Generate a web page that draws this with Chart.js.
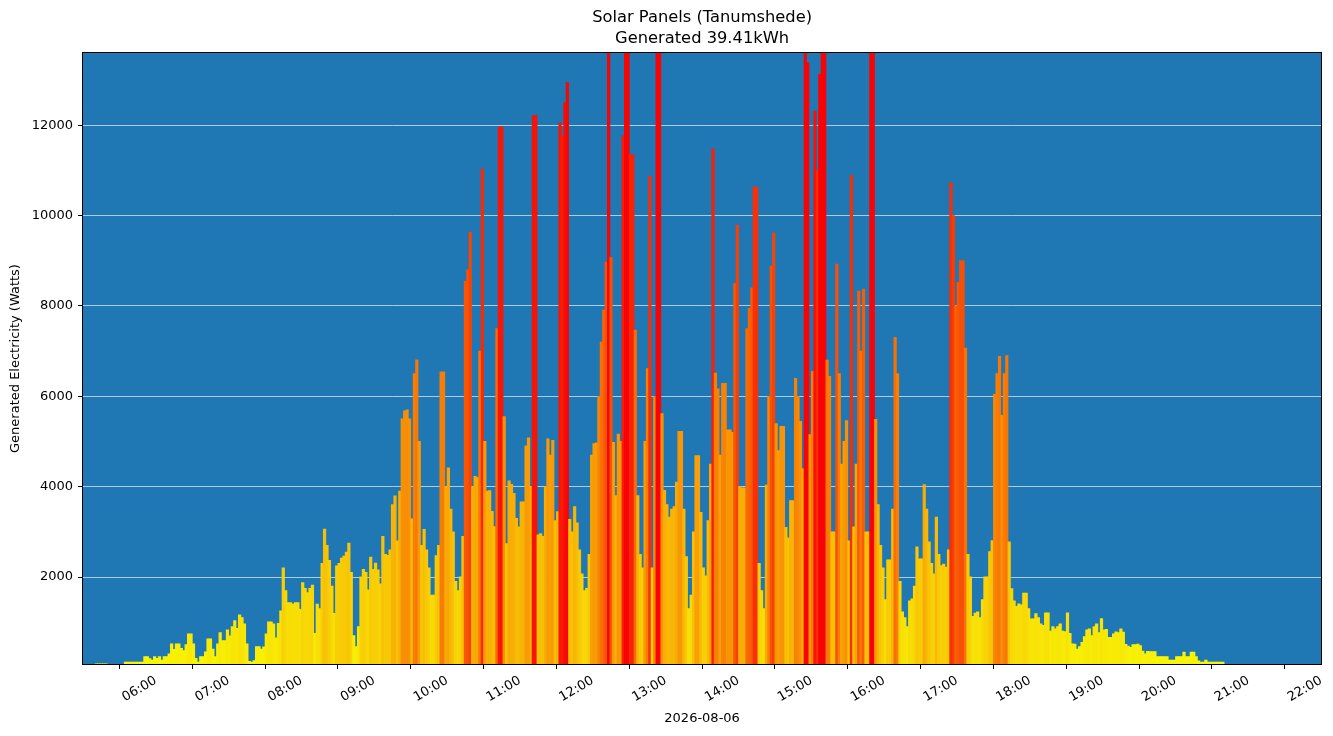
<!DOCTYPE html>
<html>
<head>
<meta charset="utf-8">
<script src="https://cdn.jsdelivr.net/npm/chart.js@4/dist/chart.umd.min.js"></script>
<style>
  html, body { margin: 0; padding: 0; background: #ffffff; }
  #wrap { width: 1333px; height: 736px; }
</style>
</head>
<body>
<div id="wrap"><canvas id="c" width="1333" height="736"></canvas></div>
<script>
// ---- data (2-minute bins) ----
const chartTitle = ['Solar Panels (Tanumshede)', 'Generated 39.41kWh'];
const xAxisTitle = '2026-08-06';
const yAxisTitle = 'Generated Electricity (Watts)';
const startMinute = 310;   // 05:10
const binMinutes = 2;
const watts = [
  75,75,75,75,75,0,0,0,0,0,
  0,0,117,117,117,117,117,117,117,117,
  236,236,190,162,236,200,236,162,236,236,
  295,517,399,517,517,420,369,500,738,738,
  517,200,117,236,236,340,628,628,400,236,
  517,768,591,591,827,694,900,1034,864,1159,
  1100,960,517,130,117,150,458,458,400,450,
  738,1004,1004,960,650,975,1248,2200,1700,1433,
  1433,1400,1433,1433,1285,1876,1750,1654,1750,1817,
  750,1400,1300,2300,3057,2700,2370,1800,1196,2245,
  2300,2420,2460,2550,2747,2100,700,458,900,2000,
  2171,2100,1713,2437,2171,2304,2156,1850,2900,2500,
  2480,2600,3600,3794,2800,3900,5500,5676,5700,5500,
  3284,6500,6807,5000,2700,3056,2600,2200,1600,1600,
  2470,2700,6540,6540,4000,4414,3500,3000,1900,1700,
  2000,2900,8545,8800,9636,4000,4225,4200,7000,11030,
  5000,3900,3913,3450,3117,7500,11965,11965,5550,2738,
  4126,4050,3850,3300,3108,3661,3661,4900,5079,4000,
  12216,12216,2930,2961,2900,4000,5056,4700,5022,3250,
  3446,12052,11766,12500,12944,3273,3000,3558,3200,2600,
  2069,1700,1750,2500,4700,4950,4970,6000,7200,7905,
  8970,14000,9073,4978,3800,5160,5000,11766,14000,14000,
  11342,11342,7463,3800,2500,2200,5000,6615,10874,2200,
  6000,14000,14000,5619,3920,3600,3325,3500,3558,4100,
  5221,5221,3500,2450,1300,1600,3000,4684,4684,3428,
  2200,2026,3250,4500,11480,6511,6165,4700,6286,6286,
  5255,5255,5200,8500,9792,4000,3974,3974,7500,7948,
  8400,10632,10632,2300,1700,1300,4035,6000,8883,9619,
  5394,4800,5333,5333,3100,2866,3688,3688,6398,6000,
  5446,4398,14000,13385,5152,6554,12311,11000,13125,14000,
  14000,6800,6442,3000,3000,8926,6500,4500,5000,5463,
  2800,10892,3108,4500,8329,7000,8372,3000,3000,14000,
  14000,5489,3600,2700,2200,1500,2381,2381,3500,7307,
  6500,1900,1229,1100,900,1472,1515,1800,2667,2400,
  2400,4043,3500,2779,2300,2069,3325,2500,2250,2286,
  2216,2600,10736,10000,8000,8520,9004,9004,7065,2500,
  2000,1126,1200,1230,1100,1500,2000,2000,2563,2805,
  6043,6500,6883,5576,6500,6900,2779,1740,1472,1350,
  1403,1380,1645,1645,1300,1074,1074,1186,1100,961,
  930,1203,1203,800,900,850,900,961,800,788,
  1203,750,520,516,400,458,550,680,830,850,
  700,900,960,768,1078,830,840,665,665,740,
  785,770,850,780,508,471,440,500,500,516,
  480,360,300,353,346,346,346,235,235,235,
  235,235,161,161,161,235,235,235,338,235,
  235,338,338,235,140,117,117,161,117,117,
  117,117,117,117,117
];
const xTickLabels = ['06:00','07:00','08:00','09:00','10:00','11:00','12:00','13:00',
                     '14:00','15:00','16:00','17:00','18:00','19:00','20:00','21:00','22:00'];
const yTickValues = [2000, 4000, 6000, 8000, 10000, 12000];

// ---- helpers ----
function labelToMinutes(s) { const p = s.split(':'); return (+p[0]) * 60 + (+p[1]); }
function minutesToLabel(m) {
  const h = Math.floor(m / 60), mm = Math.round(m - h * 60);
  return String(h).padStart(2, '0') + ':' + String(mm).padStart(2, '0');
}
const xTickMinutes = xTickLabels.map(labelToMinutes);
const points = watts.map((w, i) => ({ x: startMinute + binMinutes * i + binMinutes / 2, y: w }));

function colourFor(v) {
  // yellow -> orange -> red (autumn-like), slightly blended with the blue axes
  const t = Math.max(0, Math.min(1, v / 13000));
  const r = 248;
  const g = Math.round(248 * (1 - t) + 4 * t);
  const b = 6;
  return 'rgb(' + r + ',' + g + ',' + b + ')';
}

const FONT = '"DejaVu Sans", "Liberation Sans", sans-serif';
Chart.defaults.color = '#000000';
Chart.defaults.font.family = FONT;

const framePlugin = {
  id: 'frame',
  beforeDraw(chart) {
    const { ctx, chartArea: a } = chart;
    ctx.save();
    ctx.fillStyle = '#ffffff';
    ctx.fillRect(0, 0, chart.width, chart.height);
    ctx.fillStyle = '#1f77b4';
    ctx.fillRect(a.left, a.top, a.right - a.left, a.bottom - a.top);
    ctx.restore();
  },
  afterDraw(chart) {
    const { ctx, chartArea: a } = chart;
    ctx.save();
    ctx.strokeStyle = '#000000';
    ctx.lineWidth = 1;
    ctx.strokeRect(Math.round(a.left) - 0.5, Math.round(a.top) - 0.5,
                   Math.round(a.right - a.left) + 1, Math.round(a.bottom - a.top) + 1);
    ctx.restore();
  }
};

new Chart(document.getElementById('c'), {
  type: 'bar',
  data: {
    datasets: [{
      data: points,
      backgroundColor: points.map(p => colourFor(p.y)),
      borderWidth: 0,
      barPercentage: 1.0,
      categoryPercentage: 1.0,
      inflateAmount: 0.4
    }]
  },
  plugins: [framePlugin],
  options: {
    responsive: false,
    animation: false,
    devicePixelRatio: 1,
    layout: { padding: { top: 0, right: 10, bottom: 0, left: 0 } },
    plugins: {
      legend: { display: false },
      tooltip: { enabled: false },
      title: {
        display: true,
        text: chartTitle,
        fullSize: false,
        color: '#000000',
        font: { family: FONT, size: 16.3, weight: 'normal', lineHeight: 1.28 },
        padding: { top: 7.8, bottom: 3.5 }
      }
    },
    scales: {
      x: {
        type: 'linear',
        min: 300,
        max: 1320,
        offset: false,
        afterBuildTicks: (scale) => { scale.ticks = xTickMinutes.map(v => ({ value: v })); },
        afterFit: (scale) => { scale.height = 72; },
        ticks: {
          autoSkip: false,
          minRotation: 30,
          maxRotation: 30,
          padding: 4,
          color: '#000000',
          font: { family: FONT, size: 13 },
          callback: (v) => minutesToLabel(v)
        },
        grid: {
          display: true,
          drawOnChartArea: false,
          drawTicks: true,
          tickLength: 5,
          tickColor: '#000000',
          tickWidth: 1
        },
        border: { display: false },
        title: {
          display: true,
          text: xAxisTitle,
          color: '#000000',
          font: { family: FONT, size: 13 },
          padding: { top: 0, bottom: 10 }
        }
      },
      y: {
        type: 'linear',
        min: 74,
        max: 13600,
        afterBuildTicks: (scale) => { scale.ticks = yTickValues.map(v => ({ value: v })); },
        afterFit: (scale) => { scale.width = 83; },
        ticks: {
          padding: 5,
          color: '#000000',
          font: { family: FONT, size: 13 },
          callback: (v) => String(v)
        },
        grid: {
          display: true,
          drawOnChartArea: true,
          color: 'rgba(255,255,255,0.8)',
          lineWidth: 0.8,
          drawTicks: true,
          tickLength: 5,
          tickColor: '#000000',
          tickWidth: 1
        },
        border: { display: false },
        title: {
          display: true,
          text: yAxisTitle,
          color: '#000000',
          font: { family: FONT, size: 13 },
          padding: { top: 8, bottom: 0 }
        }
      }
    }
  }
});
</script>
</body>
</html>
